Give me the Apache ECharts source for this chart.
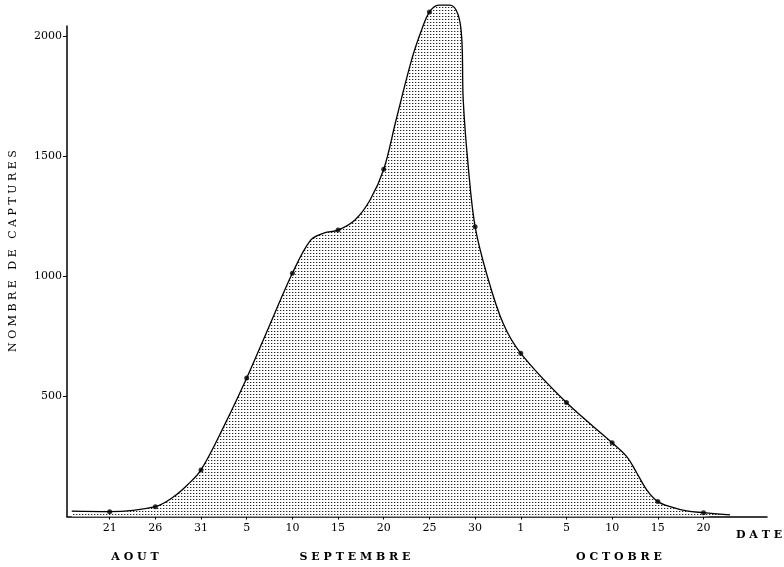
<!DOCTYPE html>
<html>
<head>
<meta charset="utf-8">
<script src="https://cdn.jsdelivr.net/npm/echarts@6/dist/echarts.min.js"></script>
<style>html,body{margin:0;padding:0;background:#fff}#c{width:784px;height:567px}</style>
</head>
<body>
<div id="c"></div>
<script>
// Tick labels (days), equally spaced on the time axis (index 1..14)
const tickLabels = ['21','26','31','5','10','15','20','25','30','1','5','10','15','20'];
const monthLabels = ['A O U T','S E P T E M B R E','O C T O B R E'];
const yTicks = [500, 1000, 1500, 2000];
// Observed captures at each dated point (marked dots)
const markedX = [1,2,3,4,5,6,7,8,9,10,11,12,13,14];
const markedY = [20,41,194,576,1012,1192,1445,2099,1206,679,474,307,62,16];
// Hand-drawn curve (position in tick units, captures)
const curveX = [0.17,1,2,2.4,2.7,3,3.5,4,4.5,5,5.4,5.7,6,6.37,6.7,7,7.27,7.61,7.83,8,8.2,8.45,8.63,8.71,8.74,8.85,9,9.26,9.61,10,11,12,12.32,12.54,12.76,13,13.27,13.63,14,14.58];
const curveY = [22,20,41,82,131,194,375,576,795,1012,1150,1180,1192,1234,1317,1445,1650,1900,2025,2099,2128,2128,2087,1983,1733,1456,1206,1005,805,679,474,307,249,181,110,62,41,23,16,7];

const dot = document.createElement('canvas');
dot.width = 3; dot.height = 3;
const dctx = dot.getContext('2d');
dctx.fillStyle = '#fff'; dctx.fillRect(0, 0, 3, 3);
dctx.fillStyle = '#222'; dctx.fillRect(1, 1, 1, 1);
dctx.fillStyle = '#bbb'; dctx.fillRect(2, 1, 1, 1);

const FONT = 'DejaVu Serif';
const chart = echarts.init(document.getElementById('c'), null, {renderer: 'canvas'});
chart.setOption({
  animation: false,
  backgroundColor: '#fff',
  grid: {left: 67, right: 17, top: 26, bottom: 50.5},
  xAxis: {
    type: 'value', min: 0.066, max: 15.39,
    axisLine: {show: true, onZero: false, lineStyle: {color: '#000', width: 1.5}},
    axisTick: {show: true, length: 3, lineStyle: {color: '#000', width: 1}, customValues: markedX},
    axisLabel: {color: '#000', fontFamily: FONT, fontSize: 11, margin: 6, customValues: markedX,
      formatter: v => tickLabels[Math.round(v) - 1] || ''},
    splitLine: {show: false}
  },
  yAxis: {
    type: 'value', min: 0, max: 2041,
    axisLine: {show: true, lineStyle: {color: '#000', width: 1.5}},
    axisTick: {show: true, length: 4, lineStyle: {color: '#000', width: 1}, customValues: yTicks},
    axisLabel: {color: '#000', fontFamily: FONT, fontSize: 11, margin: 5, customValues: yTicks,
      formatter: v => String(v)},
    splitLine: {show: false}
  },
  graphic: [
    {type: 'text', x: 13, y: 251, rotation: Math.PI / 2,
     style: {text: 'N O M B R E   D E   C A P T U R E S', font: '11px "DejaVu Serif"', fill: '#000', align: 'center', verticalAlign: 'middle'}},
    {type: 'text', x: 135, y: 557, style: {text: monthLabels[0], font: 'bold 11px "DejaVu Serif"', fill: '#000', align: 'center', verticalAlign: 'middle'}},
    {type: 'text', x: 355, y: 557, style: {text: monthLabels[1], font: 'bold 11px "DejaVu Serif"', fill: '#000', align: 'center', verticalAlign: 'middle'}},
    {type: 'text', x: 619, y: 557, style: {text: monthLabels[2], font: 'bold 11px "DejaVu Serif"', fill: '#000', align: 'center', verticalAlign: 'middle'}},
    {type: 'text', x: 759, y: 535, style: {text: 'D A T E', font: 'bold 11px "DejaVu Serif"', fill: '#000', align: 'center', verticalAlign: 'middle'}}
  ],
  series: [
    {
      type: 'line', clip: false, smooth: 0.35, showSymbol: false, symbol: 'none',
      data: curveX.map((x, i) => [x, curveY[i]]),
      lineStyle: {color: '#000', width: 1.3},
      areaStyle: {origin: 'start', color: {image: dot, repeat: 'repeat'}, opacity: 1},
      z: 2
    },
    {
      type: 'scatter', clip: false, symbol: 'circle', symbolSize: 5,
      data: markedX.map((x, i) => [x, markedY[i]]),
      itemStyle: {color: '#000'}, z: 3
    }
  ]
});
</script>
</body>
</html>
